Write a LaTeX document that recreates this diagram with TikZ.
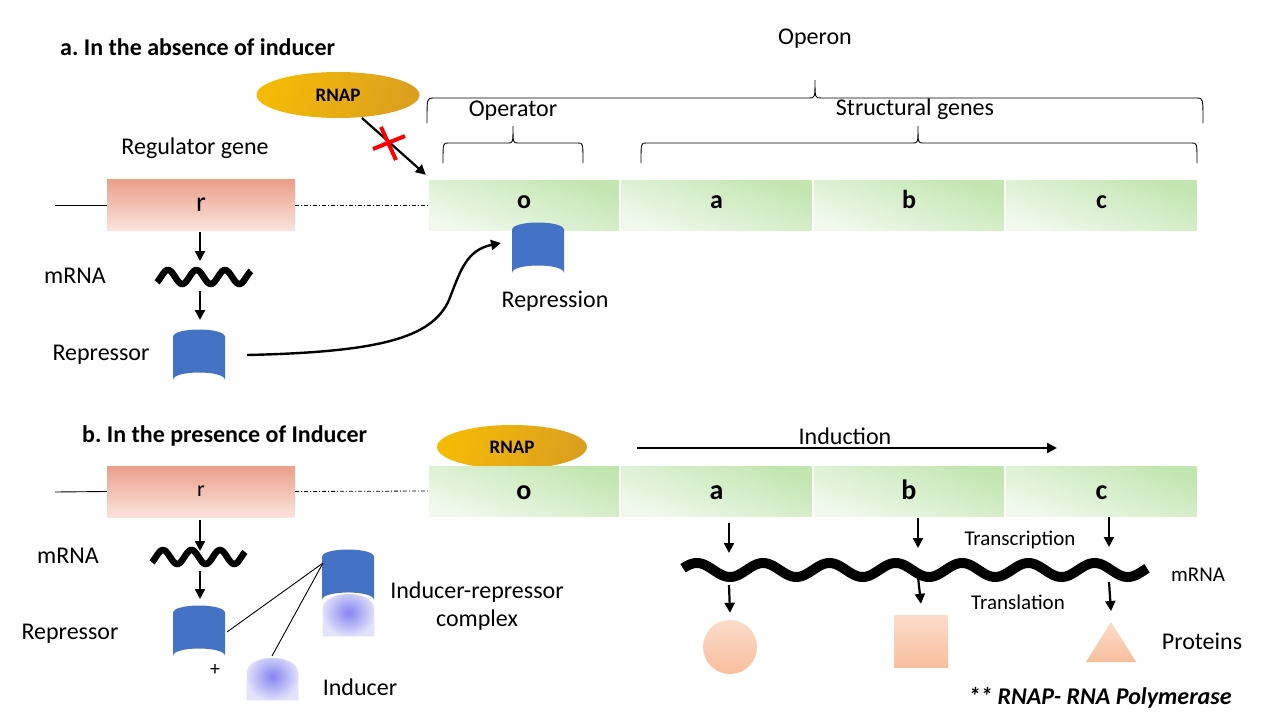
\documentclass[tikz,border=0pt]{standalone}
\usepackage{fontspec}
\setmainfont{Carlito}
\frenchspacing
\usetikzlibrary{arrows.meta,shapes.geometric}
\definecolor{repblue}{HTML}{4472C4}
\definecolor{gtop}{HTML}{C2E6B0}
\definecolor{gbot}{HTML}{F0F9EC}
\definecolor{rtop}{HTML}{EC9E8A}
\definecolor{rbot}{HTML}{FAE4DE}
\definecolor{goldA}{HTML}{F4BA06}
\definecolor{goldB}{HTML}{DCA01E}
\definecolor{ptop}{HTML}{FCDCCB}
\definecolor{pbot}{HTML}{F8BE9C}
\definecolor{indin}{HTML}{8484F2}
\definecolor{indout}{HTML}{E2E2FA}
\newcommand\fsz[1]{\fontsize{#1}{#1}\selectfont}
\tikzset{
  lbl/.style={font=\fsz{24}, inner sep=0pt},
  smalllbl/.style={font=\fsz{21}, inner sep=0pt},
  ttl/.style={font=\fsz{24}\bfseries, inner sep=0pt, anchor=west},
  arr/.style={line width=2.2pt, -{Triangle[length=10pt,width=10pt]}},
  thinline/.style={line width=0.9pt},
  dashdot/.style={line width=0.8pt, dash pattern=on 4pt off 2pt on 1pt off 2pt},
  bracepath/.style={line width=0.9pt},
  gbox/.style={minimum width=190pt, minimum height=50pt, inner sep=0pt, top color=gtop, bottom color=gbot, shading angle=-20, font=\fsz{26}\bfseries, text height=6pt, text depth=0pt},
  gboxb/.style={gbox, font=\fsz{28}\bfseries, text height=16pt, text depth=0pt},
  rbox/.style={minimum width=188pt, minimum height=51pt, inner sep=0pt, top color=rtop, bottom color=rbot},
  rnap/.style={ellipse, inner sep=0pt, left color=goldA, right color=goldB, shading angle=70, font=\fsz{19}\bfseries},
  wave/.style={line width=6.5pt},
  repressor/.pic={\fill[repblue] (0,8) .. controls (0,-2) and (52,-2) .. (52,8) -- (52,51) .. controls (52,41) and (0,41) .. (0,51) -- cycle;},
  inducer/.pic={\shadedraw[draw=white, line width=1.2pt, inner color=indin, outer color=indout] (0,46) -- (0,18) .. controls (0,-3) and (53,-3) .. (53,18) -- (53,46) -- cycle;},
}
\begin{document}
\begin{tikzpicture}[x=1pt,y=-1pt]
\useasboundingbox[fill=white] (0,0) rectangle (1280,720);

% ===================== a =====================
\node[ttl] (ta) at (60,47) {a. In the absence of inducer};
\node[lbl] (operon) at (815,39) {Operon};
\node[lbl] (operator) at (513,111) {Operator};
\node[lbl] (structural) at (915,109) {Structural genes};

\draw[bracepath] (427,123) .. controls (427,98) .. (433,98) -- (809,98) .. controls (815,98) .. (815,80) .. controls (815,98) .. (821,98) -- (1197,98) .. controls (1203,98) .. (1203,123);
\draw[bracepath] (443,163) .. controls (443,143) .. (448,143) -- (508,143) .. controls (513,143) .. (513,126) .. controls (513,143) .. (518,143) -- (578,143) .. controls (583,143) .. (583,163);
\draw[bracepath] (641,163) .. controls (641,143) .. (646,143) -- (913,143) .. controls (918,143) .. (918,126) .. controls (918,143) .. (923,143) -- (1192,143) .. controls (1197,143) .. (1197,163);

\node[rnap, minimum width=163pt, minimum height=46pt] (rnapA) at (338,95) {RNAP};
\node[lbl] (reggene) at (195,148) {Regulator gene};

\node[rbox] (rA) at (201,205) {\fsz{28}r};
\node[gbox] (oA) at (524,205) {o};
\node[gbox] (aA) at (716.5,205) {a};
\node[gbox] (bA) at (909,205) {b};
\node[gbox] (cA) at (1101.5,205) {c};

\coordinate (lA) at (55,205);
\draw[thinline] (lA) -- (rA.west);
\draw[dashdot] (rA.east) -- (oA.west);

\coordinate (rnapAout) at (362,118);
\draw[arr] (rnapAout) -- ([shift={(-3,-5)}]oA.north west);
\draw[red, line width=4pt] (381,127) -- (396,160);
\draw[red, line width=4pt] (373,149) -- (405,136);

\node[lbl] (mrnaA) at (75,276) {mRNA};
\draw[wave] plot[domain=157:251, samples=90, smooth] (\x, {277-7*cos((\x-168)*12.6316)});
\coordinate (rAs) at (200,232);
\coordinate (wAtop) at (200,261);
\coordinate (wAbot) at (200,291);
\coordinate (repAtop) at (200,320);
\draw[arr] (rAs) -- (wAtop);
\draw[arr] (wAbot) -- (repAtop);

\node[lbl] (repA) at (101,355) {Repressor};
\pic at (173,329) {repressor};
\coordinate (repAright) at (247,355);
\pic at (512,222) {repressor};
\node[lbl] (repression) at (555,301) {Repression};
\coordinate (boundtip) at (501,243);
\draw[line width=2.4pt, -{Triangle[length=10pt,width=10pt]}] (repAright) .. controls (380,352) and (432,338) .. (449,300) .. controls (460,272) and (466,250) .. (boundtip);

% ===================== b =====================
\node[ttl] (tb) at (82,436) {b. In the presence of Inducer};
\node[rnap, minimum width=150pt, minimum height=44pt] (rnapB) at (512,447) {RNAP};
\node[lbl] (induction) at (845,436) {Induction};
\coordinate (indS) at (637,448);
\coordinate (indE) at (1057,448);
\draw[arr] (indS) -- (indE);

\node[rbox] (rB) at (201,491.5) {\fsz{22}r};
\node[gboxb] (oB) at (524,491) {o};
\node[gboxb] (aB) at (716.5,491) {a};
\node[gboxb] (bB) at (909,491) {b};
\node[gboxb] (cB) at (1101.5,491) {c};
\coordinate (lB) at (55,492);
\draw[thinline] (lB) -- (rB.west);
\draw[dashdot] (rB.east) -- (oB.west);

\node[lbl] (mrnaB) at (68,556) {mRNA};
\draw[wave] plot[domain=152:245, samples=90, smooth] (\x, {557-7*cos((\x-163)*12.6316)});
\coordinate (rBs) at (200,520);
\coordinate (wBtop) at (200,551);
\coordinate (wBbot) at (200,571);
\coordinate (repBtop) at (200,599);
\draw[arr] (rBs) -- (wBtop);
\draw[arr] (wBbot) -- (repBtop);

\node[lbl] (repB) at (70,634) {Repressor};
\pic at (173,605) {repressor};
\node[font=\fsz{20}, inner sep=0pt] (plus) at (215,670) {+};
\pic at (322,549) {repressor};
\pic at (322,591) {inducer};
\pic at (246,655) {inducer};
\node[lbl] (complex1) at (477,592) {Inducer-repressor};
\node[lbl] (complex2) at (477,620) {complex};
\node[lbl] (inducerlbl) at (360,687) {Inducer};
\coordinate (repBright) at (227,632);
\coordinate (indtop) at (272,656);
\coordinate (cplx) at (323,563);
\draw[thinline] (repBright) -- (cplx);
\draw[thinline] (indtop) -- (cplx);

% transcription / translation
\draw[line width=10pt] plot[domain=683:1147, samples=240, smooth] (\x, {570+7*cos((\x-730)*5.4299)});
\coordinate (ta1) at (729,523); \coordinate (ta2) at (729,553);
\coordinate (tb1) at (918,518); \coordinate (tb2) at (918,548);
\coordinate (tc1) at (1109,517); \coordinate (tc2) at (1109,547);
\draw[arr] (ta1) -- (ta2);
\draw[arr] (tb1) -- (tb2);
\draw[arr] (tc1) -- (tc2);
\node[smalllbl] (transcription) at (1020,540) {Transcription};
\node[smalllbl] (translation) at (1018,602) {Translation};
\node[smalllbl] (mrnaC) at (1198,575) {mRNA};

\node[circle, minimum size=54pt, inner sep=0pt, top color=ptop, bottom color=pbot] (p1) at (730,647) {};
\node[minimum width=54pt, minimum height=52pt, inner sep=0pt, top color=ptop, bottom color=pbot] (p2) at (921,641) {};
\shade[top color=ptop, bottom color=pbot] (1111,622) -- (1136,662) -- (1086,662) -- cycle;
\coordinate (p3) at (1111,620);
\coordinate (la1) at (729,585);
\coordinate (lb1) at (918,577);
\coordinate (lc1) at (1109,582);
\draw[arr] (la1) -- ([yshift=7pt]p1.north);
\draw[arr] (lb1) -- ([yshift=11pt]p2.north);
\draw[arr] (lc1) -- ([yshift=9pt]p3);
\node[lbl] (proteins) at (1202,641) {Proteins};

\node[font=\fsz{24}\bfseries\itshape, inner sep=0pt] (note) at (1100,698) {** RNAP- RNA Polymerase};
\end{tikzpicture}
\end{document}
